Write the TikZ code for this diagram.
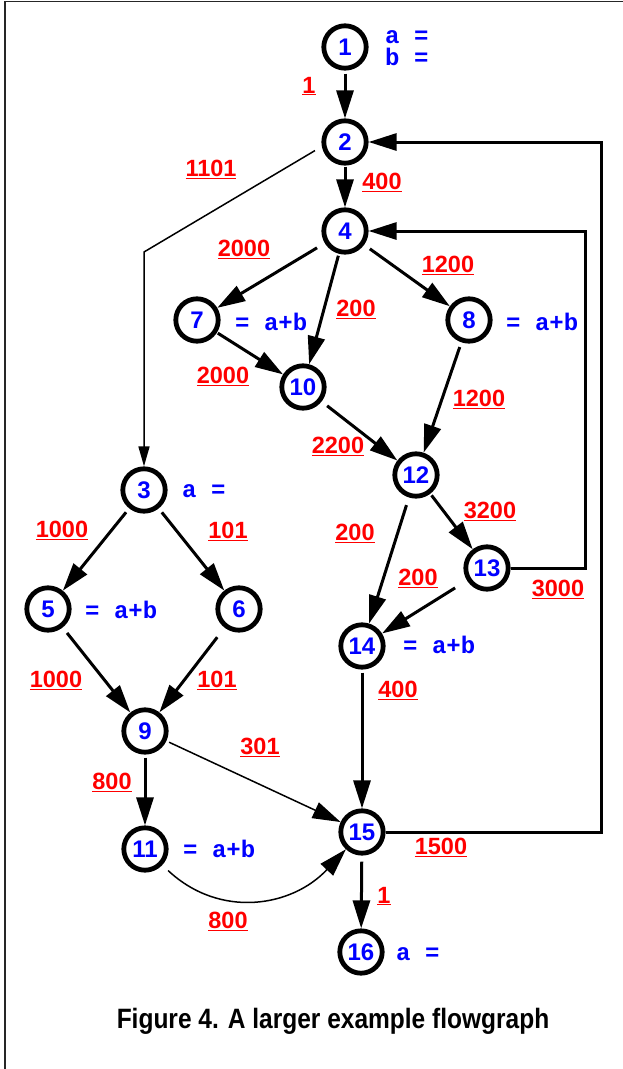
\documentclass[tikz,border=0pt]{standalone}
\usepackage{fontspec}
\setmainfont{Liberation Sans}
\newfontfamily\codefont{Liberation Mono}
\newfontfamily\capfont{Liberation Sans}[FakeStretch=0.875]
\usetikzlibrary{arrows.meta}
\definecolor{numblue}{RGB}{0,0,255}
\definecolor{wred}{RGB}{255,0,0}
\newcommand\wlab[1]{\underline{#1}}

\begin{document}
\begin{tikzpicture}[x=1pt,y=1pt,
  vertex/.style={circle, draw=black, line width=4.8pt, fill=white,
    minimum size=42.4pt, inner sep=0pt, text=numblue,
    font=\fontsize{24}{24}\selectfont\bfseries},
  code/.style={anchor=base west, text=numblue, inner sep=0pt,
    font=\codefont\fontsize{24}{24}\selectfont\bfseries},
  wt/.style={text=wred, inner sep=0pt,
    font=\fontsize{23.5}{23.5}\selectfont\bfseries},
  flow/.style={line width=3pt, -{Triangle[length=28pt,width=17pt]}, shorten <=3pt},
  thinflow/.style={line width=1.5pt, -{Triangle[length=28pt,width=17pt]}, shorten <=3pt},
  back/.style={line width=3pt, -{Triangle[length=28pt,width=17pt]}},
]
\useasboundingbox (0,0) rectangle (623,-1069);
% page frame (left and top rules)
\draw[line width=1.5pt, black!85] (5,-1069) -- (5,-1.5) -- (623,-1.5);

% vertices
\node[vertex] (n1)  at (345,-47)  {1};
\node[vertex] (n2)  at (345,-142) {2};
\node[vertex] (n4)  at (345,-231) {4};
\node[vertex] (n7)  at (197,-320) {7};
\node[vertex] (n8)  at (469,-320) {8};
\node[vertex] (n10) at (303,-387) {10};
\node[vertex] (n12) at (416,-475) {12};
\node[vertex] (n13) at (487,-568) {13};
\node[vertex] (n14) at (362,-646) {14};
\node[vertex] (n3)  at (144,-490) {3};
\node[vertex] (n5)  at (48,-609)  {5};
\node[vertex] (n6)  at (239,-609) {6};
\node[vertex] (n9)  at (145,-731) {9};
\node[vertex] (n11) at (145,-849) {11};
\node[vertex] (n15) at (362,-832) {15};
\node[vertex] (n16) at (361,-952) {16};

% statements attached to vertices
\node[code] (s1a) at (385,-43)  {a =};
\node[code] (s1b) at (385,-65)  {b =};
\node[code] (s3)  at (182,-497) {a =};
\node[code] (s5)  at (85,-618)  {= a+b};
\node[code] (s7)  at (235,-330) {= a+b};
\node[code] (s8)  at (506,-330) {= a+b};
\node[code] (s14) at (403,-653) {= a+b};
\node[code] (s11) at (183,-857) {= a+b};
\node[code] (s16) at (396,-960) {a =};

% bend points of the long connectors
\coordinate (c23) at (144,-252);
\coordinate (r13) at (585,-568);
\coordinate (t13) at (585,-231);
\coordinate (r15) at (601,-832);
\coordinate (t15) at (601,-142);

% connectors
\draw[flow] (n1) -- (n2);
\draw[flow, shorten <=1pt] (n2) -- (n4);
\draw[thinflow, -{Triangle[length=20pt,width=11pt]}, shorten <=8pt] (n2.191) -- (c23) -- (n3);
\draw[flow, shorten <=9pt] (n4) -- (n7);
\draw[flow, shorten <=2pt] (n4) -- (n10);
\draw[flow, shorten <=7pt] (n4) -- (n8);
\draw[flow, shorten <=1pt] (n7) -- (n10);
\draw[flow, shorten <=7pt] (n10) -- (n12);
\draw[flow, shorten <=5pt] (n8) -- (n12);
\draw[flow, shorten <=2pt] (n12) -- (n13);
\draw[flow, shorten <=8pt] (n12) -- (n14);
\draw[flow, shorten <=14pt] (n13) -- (n14);
\draw[back] (n13) -- (r13) -- (t13) -- (n4);
\draw[flow, shorten <=5pt] (n3) -- (n5);
\draw[flow, shorten <=5pt] (n3) -- (n6);
\draw[flow, shorten <=7pt] (n5) -- (n9);
\draw[flow, shorten <=12pt] (n6) -- (n9);
\draw[flow] (n9) -- (n11);
\draw[thinflow] (n9) -- (n15);
\draw[thinflow, shorten <=8pt] (n11) to[out=-43, in=-133, looseness=1.1] (n15);
\draw[flow] (n14) -- (n15);
\draw[back] (n15) -- (r15) -- (t15) -- (n2);
\draw[flow, shorten <=6pt] (n15) -- (n16);

% edge weights
\node[wt] (w12)   at (309,-86)  {\wlab{1}};
\node[wt] (w23)   at (211,-169) {\wlab{1101}};
\node[wt] (w24)   at (382,-182) {\wlab{400}};
\node[wt] (w47)   at (244,-249) {\wlab{2000}};
\node[wt] (w48)   at (448,-265) {\wlab{1200}};
\node[wt] (w410)  at (356,-309) {\wlab{200}};
\node[wt] (w710)  at (223,-376) {\wlab{2000}};
\node[wt] (w812)  at (479,-399) {\wlab{1200}};
\node[wt] (w1012) at (338,-446) {\wlab{2200}};
\node[wt] (w1213) at (490,-511) {\wlab{3200}};
\node[wt] (w1214) at (355,-533) {\wlab{200}};
\node[wt] (w1314) at (418,-578) {\wlab{200}};
\node[wt] (w134)  at (558,-589) {\wlab{3000}};
\node[wt] (w1415) at (398,-690) {\wlab{400}};
\node[wt] (w35)   at (62,-530)  {\wlab{1000}};
\node[wt] (w36)   at (228,-531) {\wlab{101}};
\node[wt] (w59)   at (56,-680)  {\wlab{1000}};
\node[wt] (w69)   at (217,-680) {\wlab{101}};
\node[wt] (w915)  at (260,-747) {\wlab{301}};
\node[wt] (w911)  at (112,-782) {\wlab{800}};
\node[wt] (w152)  at (441,-847) {\wlab{1500}};
\node[wt] (w1115) at (228,-921) {\wlab{800}};
\node[wt] (w1516) at (384,-896) {\wlab{1}};

% caption
\node[font=\capfont\bfseries\fontsize{28}{28}\selectfont] (cap) at (333,-1021)
  {Figure 4. A larger example flowgraph};
\end{tikzpicture}
\end{document}
